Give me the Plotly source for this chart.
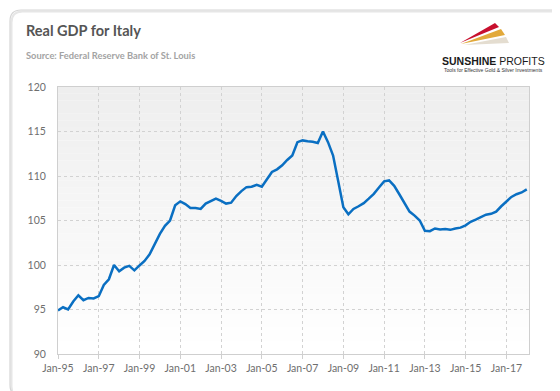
import plotly.graph_objects as go
import pandas as pd

# ---- data (quarterly, 1995Q1 .. 2018Q1) ----
start_date = "1995-01-01"
gdp_values = [
    94.9, 95.25, 95.0, 95.9,
    96.6, 96.05, 96.3, 96.25,
    96.5, 97.75, 98.4, 100.0,
    99.3, 99.7, 99.9, 99.4,
    99.95, 100.45, 101.2, 102.45,
    103.5, 104.4, 105.0, 106.7,
    107.15, 106.85, 106.4, 106.4,
    106.3, 106.9, 107.15, 107.45,
    107.2, 106.9, 107.0, 107.75,
    108.3, 108.75, 108.8, 109.0,
    108.8, 109.6, 110.45, 110.75,
    111.2, 111.8, 112.3, 113.8,
    114.0, 113.9, 113.85, 113.7,
    115.0, 113.8, 112.3, 109.4,
    106.5, 105.7, 106.3, 106.6,
    106.95, 107.45, 108.0, 108.7,
    109.4, 109.5, 108.9, 107.95,
    106.95, 106.0, 105.55, 105.0,
    103.85, 103.8, 104.1, 104.0,
    104.05, 103.95, 104.1, 104.2,
    104.45, 104.85, 105.1, 105.35,
    105.65, 105.75, 106.0, 106.6,
    107.15, 107.65, 107.95, 108.15,
    108.5,
]
dates = pd.date_range(start_date, periods=len(gdp_values), freq="QS")

title_text = "Real GDP for Italy"
subtitle_text = "Source: Federal Reserve Bank of St. Louis"

# ---- layout geometry (pixels) ----
W, H = 560, 391
ML, MR, MT, MB = 50, 39, 79, 45
PW, PH = W - ML - MR, H - MT - MB


def px(x):
    return (x - ML) / PW


def py(y):
    return (H - MB - y) / PH


FONT = "Lato"

fig = go.Figure()
fig.add_trace(go.Scatter(
    x=dates, y=gdp_values, mode="lines",
    line=dict(color="#0a6fc2", width=2.5),
    hoverinfo="x+y", showlegend=False,
))

shapes = []
# gradient plot background
nb = 40
for i in range(nb):
    t = i / (nb - 1)
    c = int(round(255 - 17 * t))
    shapes.append(dict(type="rect", xref="x domain", yref="y domain",
                       x0=0, x1=1, y0=i / nb, y1=(i + 1) / nb,
                       fillcolor=f"rgb({c},{c},{c})", line=dict(width=0),
                       layer="below"))

# outer rounded frame
def rrect(x0, y0, x1, y1, r):
    rx = r / PW
    ry = r / PH
    X0, X1 = px(x0), px(x1)
    Y0, Y1 = py(y0), py(y1)  # Y0 top, Y1 bottom
    return (f"M {X0+rx},{Y0} L {X1-rx},{Y0} Q {X1},{Y0} {X1},{Y0-ry} "
            f"L {X1},{Y1+ry} Q {X1},{Y1} {X1-rx},{Y1} "
            f"L {X0+rx},{Y1} Q {X0},{Y1} {X0},{Y1+ry} "
            f"L {X0},{Y0-ry} Q {X0},{Y0} {X0+rx},{Y0} Z")

shapes.append(dict(type="path", xref="paper", yref="paper",
                   path=rrect(3.5, 3.5, 558, 389.5, 11),
                   line=dict(color="#e6e6e6", width=2), layer="below"))
shapes.append(dict(type="path", xref="paper", yref="paper",
                   path=rrect(2, 2, 557, 388, 11),
                   line=dict(color="#d6d6d6", width=1.2), layer="below"))

# logo swooshes
def tri(pts):
    s = "M " + " L ".join(f"{px(a)},{py(b)}" for a, b in pts) + " Z"
    return s

shapes.append(dict(type="path", xref="paper", yref="paper",
                   path=tri([(452, 35), (487, 15), (491, 19)]),
                   fillcolor="#c8102e", line=dict(width=0)))
shapes.append(dict(type="path", xref="paper", yref="paper",
                   path=tri([(453, 36), (493, 21), (497, 27)]),
                   fillcolor="#e2a93a", line=dict(width=0)))
shapes.append(dict(type="path", xref="paper", yref="paper",
                   path=tri([(456, 37), (498, 29), (501, 35)]),
                   fillcolor="#e4ddd0", line=dict(width=0)))

annotations = [
    dict(text=f"<b>{title_text}</b>", xref="paper", yref="paper",
         x=px(16), y=py(23), xanchor="left", yanchor="middle",
         showarrow=False, font=dict(family=FONT, size=14.5, color="#555555")),
    dict(text=f"<b>{subtitle_text}</b>", xref="paper", yref="paper",
         x=px(16), y=py(48), xanchor="left", yanchor="middle",
         showarrow=False, font=dict(family=FONT, size=9.3, color="#a3a3a3")),
    dict(text="<b>SUNSHINE</b> PROFITS", xref="paper", yref="paper",
         x=px(485.5), y=py(53), xanchor="center", yanchor="middle",
         showarrow=False, font=dict(family="Liberation Sans", size=10.5, color="#1a1a1a")),
    dict(text="Tools for Effective Gold &amp; Silver Investments", xref="paper", yref="paper",
         x=px(485.5), y=py(62), xanchor="center", yanchor="middle",
         showarrow=False, font=dict(family="Liberation Sans", size=5, color="#333333")),
]

fig.update_layout(
    width=W, height=H,
    margin=dict(l=ML, r=MR, t=MT, b=MB, pad=0),
    paper_bgcolor="white", plot_bgcolor="rgba(0,0,0,0)",
    shapes=shapes, annotations=annotations,
    font=dict(family=FONT, size=10.5, color="#6e6e6e"),
    showlegend=False,
)
fig.update_xaxes(
    type="date", range=["1995-01-01", "2018-02-10"],
    tick0="1995-01-01", dtick="M24", tickformat="%b-%y",
    showgrid=True, gridcolor="#d2d2d2", griddash="dot", gridwidth=1,
    showline=True, linecolor="#cfcfcf", linewidth=1, mirror=True,
    ticks="outside", ticklen=4, tickcolor="#cfcfcf",
    tickfont=dict(family=FONT, size=10.5, color="#6e6e6e"),
    zeroline=False,
)
fig.update_yaxes(
    range=[90, 120], dtick=5, tick0=90,
    showgrid=True, gridcolor="#d2d2d2", griddash="dot", gridwidth=1,
    showline=True, linecolor="#cfcfcf", linewidth=1, mirror=True,
    ticks="", ticklabelstandoff=9,
    tickfont=dict(family=FONT, size=10.5, color="#6e6e6e"),
    zeroline=False,
)

fig.write_html("out.html")
